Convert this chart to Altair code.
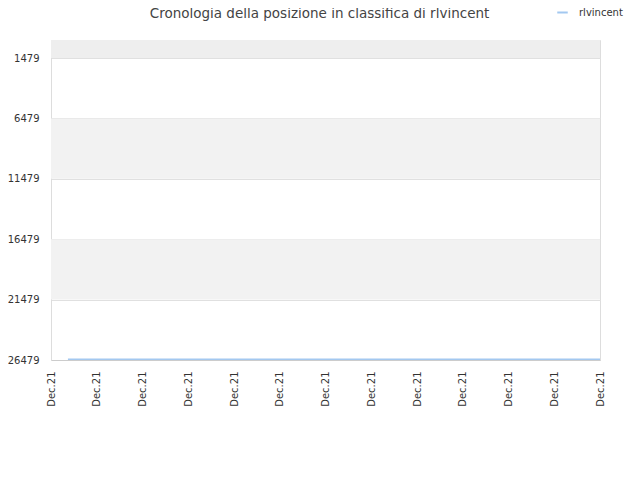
import altair as alt
import pandas as pd

# Data
title_text = "Cronologia della posizione in classifica di rlvincent"
series_name = "rlvincent"
x_pos = [0.37, 12]
ranks = [26420, 26420]
tick_vals = list(range(13))
tick_labels = ["Dec.21"] * 13
y_ticks = [1479, 6479, 11479, 16479, 21479, 26479]
band_start = [-21, 6479, 16479]
band_end = [1479, 11479, 21479]
band_fill = ["#eeeeee", "#f2f2f2", "#f2f2f2"]

line_df = pd.DataFrame({"x": x_pos, "rank": ranks, "serie": [series_name] * len(x_pos)})
band_df = pd.DataFrame({"y": band_start, "y2": band_end, "c": band_fill})

y_scale = alt.Scale(domain=[-21, 26479], reverse=True, nice=False, zero=False)
x_scale = alt.Scale(domain=[0, 12], nice=False, zero=False)

label_expr = "[" + ",".join("'%s'" % l for l in tick_labels) + "][datum.value]"

bands = alt.Chart(band_df).mark_rect(strokeWidth=0).encode(
    x=alt.value(0),
    x2=alt.value(549),
    y=alt.Y("y:Q", scale=y_scale),
    y2="y2:Q",
    fill=alt.Fill("c:N", scale=None, legend=None),
)

line = alt.Chart(line_df).mark_line(strokeWidth=1.5).encode(
    x=alt.X(
        "x:Q",
        scale=x_scale,
        axis=alt.Axis(
            values=tick_vals,
            labelExpr=label_expr,
            labelAngle=270,
            labelAlign="right",
            labelBaseline="middle",
            labelPadding=11,
            ticks=False,
            grid=False,
            domainColor="#cccccc",
            labelColor="#333333",
            labelFontSize=10,
            labelFont="DejaVu Sans",
            title=None,
        ),
    ),
    y=alt.Y(
        "rank:Q",
        scale=y_scale,
        axis=alt.Axis(
            values=y_ticks,
            format="d",
            ticks=False,
            grid=True,
            gridColor="#e0e0e0",
            domainColor="#dddddd",
            labelColor="#333333",
            labelFontSize=10,
            labelFont="DejaVu Sans",
            labelPadding=12,
            title=None,
        ),
    ),
    color=alt.Color(
        "serie:N",
        scale=alt.Scale(domain=[series_name], range=["#a3c8f0"]),
        legend=alt.Legend(
            title=None,
            orient="none",
            legendX=505,
            legendY=-34,
            symbolType="stroke",
            symbolSize=110,
            symbolStrokeWidth=2,
            labelOffset=10,
            labelFontSize=10,
            labelFont="DejaVu Sans",
            labelColor="#333333",
        ),
    ),
)

chart = (
    alt.layer(bands, line)
    .properties(
        width=549,
        height=320,
        padding={"left": 43, "top": 32, "right": 32, "bottom": 112},
        autosize=alt.AutoSizeParams(type="none"),
        title=alt.TitleParams(
            title_text,
            fontSize=13.5,
            fontWeight="normal",
            font="DejaVu Sans",
            color="#444444",
            anchor="middle",
            dx=-6,
            dy=14,
            offset=0,
        ),
    )
    .configure_view(stroke="#dddddd", strokeWidth=1)
)

chart.save("out.html", embed_options={"renderer": "svg", "actions": False})
